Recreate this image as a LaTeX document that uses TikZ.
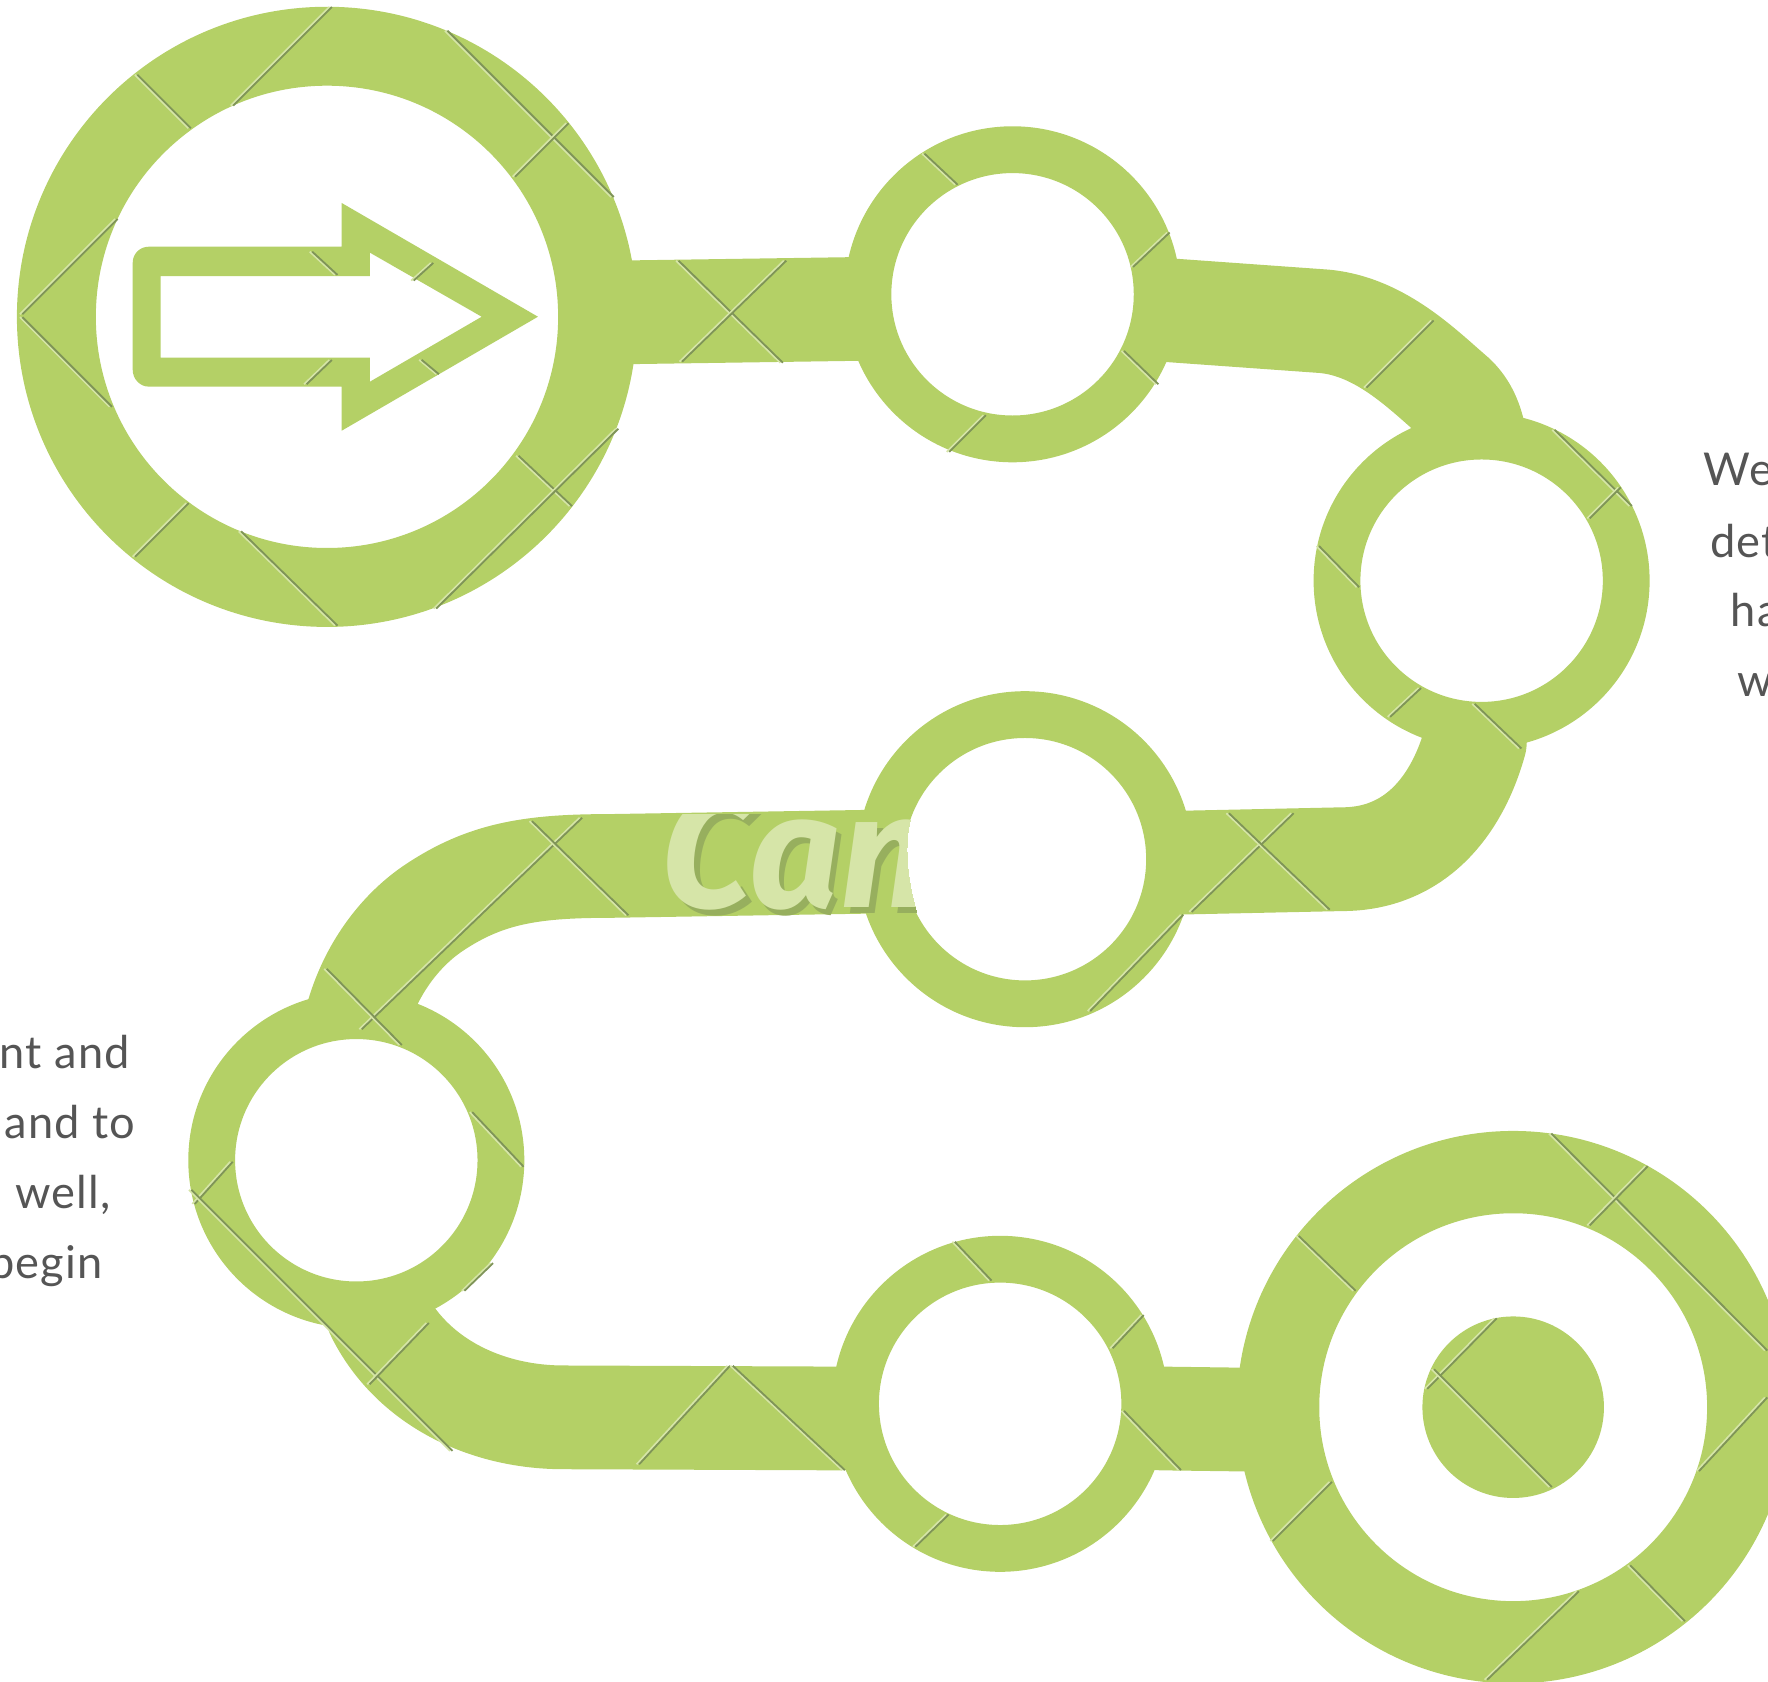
\documentclass[tikz,border=0pt]{standalone}
\usepackage{fontspec}
\setmainfont{Lato}[LetterSpace=2.5]
\newfontfamily\wmfont{Fira Sans}
\usetikzlibrary{backgrounds}
\definecolor{leaf}{HTML}{B4D066}
\definecolor{hairdark}{HTML}{7F9458}
\definecolor{hairpale}{HTML}{D6E5A8}
\definecolor{inktext}{HTML}{555555}
\newcommand{\ux}{0.5638pt}
\tikzset{
  ringsmall/.style={circle,draw=leaf,fill=white,inner sep=0pt,outer sep=0pt,line width=41.5*\ux,minimum size=256.5*\ux},
  ringbig/.style={circle,draw=leaf,fill=white,inner sep=0pt,outer sep=0pt,line width=70*\ux,minimum size=480*\ux},
  ringgoal/.style={circle,draw=leaf,fill=white,inner sep=0pt,outer sep=0pt,line width=73*\ux,minimum size=417*\ux},
  dot/.style={circle,fill=leaf,inner sep=0pt,outer sep=0pt,minimum size=161*\ux},
  pipe/.style={draw=leaf,line width=92*\ux,line join=round},
  hairD/.style={draw=hairdark,line width=0.9pt,shorten <=1pt,shorten >=1pt},
  hairP/.style={draw=hairpale,line width=0.9pt,shorten <=1pt,shorten >=1pt},
  copyline/.style={text=inktext,font=\fontsize{22.6pt}{27pt}\selectfont,inner sep=0pt,outer sep=0pt},
  wmark/.style={inner sep=0pt,outer sep=0pt,anchor=base west,font=\wmfont\bfseries\itshape\fontsize{80pt}{80pt}\selectfont},
}
\begin{document}
\begin{tikzpicture}[x=\ux,y=-\ux]
\useasboundingbox (0,0) rectangle (1568,1491);
\node[ringbig] (n1) at (290,281) {};
\node[ringsmall] (n2) at (898,261) {};
\node[ringsmall] (n3) at (1314,515) {};
\node[ringsmall] (n4) at (909,762) {};
\node[ringsmall] (n5) at (316,1029) {};
\node[ringsmall] (n6) at (887,1245) {};
\node[ringgoal] (goal) at (1342,1248) {};
\node[dot] (bull) at (1342,1248) {};
\begin{pgfonlayer}{background}
\draw[pipe] (n1.center) -- (555,277) -- (760,274) -- (n2.center);
\draw[pipe] (n2.center) -- (1035,275) -- (1175,285) .. controls (1225,290) and (1262,328) .. (1290,352) .. controls (1310,372) and (1314,400) .. (n3.center);
\draw[pipe] (n3.center) -- (1308,658) .. controls (1292,715) and (1255,762) .. (1190,762) -- (1050,765) -- (n4.center);
\draw[pipe] (n4.center) -- (540,768) .. controls (470,768) and (430,775) .. (385,805) .. controls (355,825) and (328,860) .. (316,905) -- (n5.center);
\draw[pipe] (n5.center) -- (335,1165) .. controls (365,1225) and (430,1257) .. (500,1257) -- (745,1258) -- (n6.center);
\draw[pipe] (n6.center) -- (1030,1258) -- (1105,1259) -- (goal.center);
\end{pgfonlayer}
% faded stock mark, on the green only
\begin{scope}
\clip (560,722) -- (809.2,722) .. controls (804,735) and (800,765) .. (813.8,812) -- (560,812) -- cycle;
\node[wmark,text=hairdark!55!leaf] (wmshadow) at (592,810) {Can};
\node[wmark,text=hairpale] (wm) at (587,805) {Can};
\end{scope}
% arrow
\fill[leaf,even odd rule]
  (303,180) -- (477.1,280.9) -- (303,382) -- (303,342.9) -- (132,342.9)
  .. controls (124,342.9) and (117.7,336) .. (117.7,328) -- (117.7,233)
  .. controls (117.7,225) and (124,218.8) .. (132,218.8) -- (303,218.8) -- cycle
  (142.5,244.8) -- (328.1,244.8) -- (328.1,224.1) -- (427.2,280.9) -- (328.1,338.5) -- (328.1,317.2) -- (142.5,317.2) -- cycle;
% stock-image grid marks
\foreach \xa/\ya/\xb/\yb in {
  295/5/205/95,120/65/170/115,395/26/545/176,505/108/455/158,105/193/18/280,18/280/100/362,
  168/445/118/495,212/470/300/556,458/403/508/450,549/379/385/541,
  275/222/300/245,385/232/365/250,270/342/295/318,372/318/390/333,
  600/230/695/323,698/230/603/322,
  818/135/850/165,1038/205/1003/238,995/310/1028/342,875/367/840/402,
  1272/283/1210/345,
  1377/380/1448/450,1438/431/1408/461,1168/483/1206/522,1261/609/1231/637,1306/623/1350/665,
  1148/720/1055/810,1088/720/1180/808,1050/810/965/898,
  517/724/319/914,470/727/558/813,288/858/357/928,
  417/985/465/1036,438/1119/410/1146,207/1029/171/1069,168/1054/402/1288,381/1172/326/1229,
  648/1210/565/1300,648/1210/750/1305,
  845/1100/880/1137,1015/1165/985/1197,842/1342/810/1373,995/1250/1048/1305,
  1374/1004/1568/1199,1150/1095/1203/1146,1462/1033/1408/1088,1568/1238/1505/1306,
  1328/1168/1264/1233,1270/1213/1377/1320,1182/1313/1127/1368,1444/1387/1495/1439,1401/1410/1317/1491}
{
  \draw[hairP] (\xa-1.6,\ya) -- (\xb-1.6,\yb);
  \draw[hairD] (\xa+0.6,\ya) -- (\xb+0.6,\yb);
}
% text
\node[copyline,anchor=base west] (r1) at (1511,431) {We};
\node[copyline,anchor=base west] (r2) at (1517,494) {det};
\node[copyline,anchor=base west] (r3) at (1535,556) {ha};
\node[copyline,anchor=base west] (r4) at (1541,618) {w};
\node[copyline,anchor=base east] (l1) at (115,948) {nt and};
\node[copyline,anchor=base east] (l2) at (120,1010) {and to};
\node[copyline,anchor=base east] (l3) at (98,1072) {well,};
\node[copyline,anchor=base east] (l4) at (91,1134) {begin};
\end{tikzpicture}
\end{document}
